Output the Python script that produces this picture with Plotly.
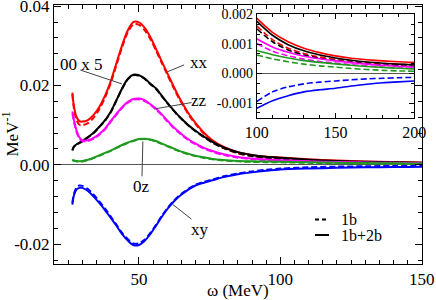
import plotly.graph_objects as go
import numpy as np

# ---------------- data (values in units of 1e-3 MeV^-1) ----------------
omega = [26.5, 27, 28, 29, 30, 32, 34, 36, 38, 40, 42, 44, 46, 48, 50, 52, 54, 56, 58, 60,
         62, 64, 66, 68, 70, 73, 76, 80, 85, 90, 95, 100, 110, 120, 130, 140, 150, 160, 170,
         180, 190, 200]

xx_1b2b = [18.2, 15.0, 12.0, 11.0, 10.9, 11.3, 12.6, 14.6, 17.4, 21.0, 25.5, 30.0, 33.8, 36.0,
           35.9, 34.6, 32.3, 29.3, 26.2, 23.2, 20.2, 17.3, 14.8, 12.5, 10.6, 8.1, 6.2, 4.5,
           3.2, 2.45, 2.05, 1.88, 1.40, 1.08, 0.86, 0.71, 0.60, 0.52, 0.47, 0.43, 0.40, 0.38]
xx_1b = [17.8, 14.4, 11.2, 10.1, 10.0, 10.5, 11.9, 14.0, 16.9, 20.5, 25.0, 29.5, 33.3, 35.4,
         35.3, 34.0, 31.8, 28.9, 25.8, 22.8, 19.8, 17.0, 14.5, 12.2, 10.3, 7.8, 5.9, 4.2,
         2.9, 2.2, 1.85, 1.62, 1.15, 0.86, 0.68, 0.56, 0.48, 0.42, 0.37, 0.34, 0.31, 0.30]

s00_1b2b = [3.7, 4.6, 5.2, 5.6, 6.0, 7.0, 8.1, 9.6, 11.2, 13.3, 16.2, 19.2, 21.6, 22.7,
            22.6, 21.8, 20.5, 19.3, 17.5, 15.7, 14.0, 12.4, 11.0, 9.7, 8.6, 7.1, 5.8, 4.4,
            3.2, 2.5, 2.05, 1.78, 1.30, 0.98, 0.77, 0.63, 0.53, 0.45, 0.39, 0.35, 0.32, 0.30]
s00_1b = [3.6, 4.5, 5.1, 5.5, 5.9, 6.9, 8.0, 9.5, 11.1, 13.2, 16.1, 19.1, 21.5, 22.6,
          22.5, 21.7, 20.4, 19.2, 17.4, 15.6, 13.9, 12.3, 10.9, 9.6, 8.5, 7.0, 5.6, 4.2,
          3.0, 2.25, 1.80, 1.52, 1.08, 0.80, 0.63, 0.52, 0.44, 0.38, 0.33, 0.29, 0.26, 0.24]

zz_1b2b = [13.5, 11.5, 8.6, 6.9, 6.2, 6.2, 6.8, 7.8, 9.1, 11.0, 12.8, 14.5, 15.8, 16.6,
           16.7, 16.3, 15.3, 14.2, 12.8, 11.2, 9.7, 8.4, 7.2, 6.2, 5.4, 4.3, 3.5, 2.7,
           2.0, 1.6, 1.35, 1.18, 0.90, 0.72, 0.59, 0.50, 0.43, 0.37, 0.32, 0.28, 0.25, 0.22]
zz_1b = [13.0, 11.0, 8.2, 6.6, 6.0, 6.0, 6.6, 7.6, 8.9, 10.8, 12.6, 14.3, 15.6, 16.4,
         16.5, 16.1, 15.2, 14.0, 12.6, 11.0, 9.5, 8.2, 7.0, 6.0, 5.2, 4.1, 3.3, 2.5,
         1.8, 1.42, 1.18, 1.02, 0.76, 0.60, 0.49, 0.41, 0.36, 0.30, 0.26, 0.22, 0.19, 0.17]

oz_1b2b = [1.3, 1.1, 0.95, 0.9, 0.95, 1.3, 1.8, 2.4, 3.0, 3.6, 4.3, 5.0, 5.6, 6.1,
           6.5, 6.6, 6.4, 6.0, 5.4, 4.8, 4.2, 3.6, 3.1, 2.7, 2.3, 1.9, 1.5, 1.2,
           1.0, 0.88, 0.82, 0.78, 0.64, 0.53, 0.44, 0.38, 0.33, 0.28, 0.24, 0.21, 0.18, 0.16]
oz_1b = [1.2, 1.0, 0.85, 0.8, 0.85, 1.2, 1.7, 2.3, 2.9, 3.5, 4.2, 4.9, 5.5, 6.0,
         6.4, 6.5, 6.3, 5.9, 5.3, 4.7, 4.1, 3.5, 3.0, 2.6, 2.2, 1.75, 1.4, 1.1,
         0.88, 0.75, 0.68, 0.63, 0.50, 0.40, 0.32, 0.26, 0.22, 0.17, 0.14, 0.11, 0.09, 0.08]

xy_1b2b = [-10.0, -7.8, -6.2, -5.8, -5.8, -6.6, -8.0, -9.6, -11.4, -13.3, -15.3, -17.4, -19.0, -20.2,
           -20.2, -19.2, -17.5, -15.4, -13.2, -11.2, -9.5, -8.1, -7.0, -6.0, -5.2, -4.5, -3.9, -3.1,
           -2.4, -1.9, -1.5, -1.18, -0.92, -0.75, -0.62, -0.55, -0.50, -0.42, -0.36, -0.31, -0.28, -0.25]
xy_1b = [-9.6, -7.4, -5.7, -5.2, -5.3, -6.1, -7.5, -9.2, -11.0, -13.0, -15.0, -17.1, -18.7, -19.8,
         -19.8, -18.9, -17.2, -15.2, -13.0, -11.0, -9.3, -7.9, -6.8, -5.8, -5.0, -4.3, -3.7, -2.9,
         -2.2, -1.65, -1.25, -0.95, -0.62, -0.45, -0.35, -0.29, -0.25, -0.21, -0.18, -0.16, -0.14, -0.13]

series = [
    ("xx", "#ff0000", xx_1b, xx_1b2b),
    ("00 x 5", "#000000", s00_1b, s00_1b2b),
    ("zz", "#ff00ff", zz_1b, zz_1b2b),
    ("0z", "#1f9a1f", oz_1b, oz_1b2b),
    ("xy", "#0000ff", xy_1b, xy_1b2b),
]

main_xticks = [50, 100, 150]
main_yticks = [-0.02, 0.0, 0.02, 0.04]
main_yticktext = ["-0.02", "0.00", "0.02", "0.04"]
inset_xticks = [100, 150, 200]
inset_yticks = [-0.001, 0.0, 0.001, 0.002]
inset_yticktext = ["-0.001", "0.000", "0.001", "0.002"]

# ---------------- figure ----------------
W, H = 436, 300
ML, MR, MT, MB = 54, 14, 5, 36
PW, PH = W - ML - MR, H - MT - MB
FONT = "Liberation Serif, Times New Roman, Times, serif"


def px(xp):
    return (xp - ML) / PW


def py(yp):
    return (H - MB - yp) / PH


om = np.array(omega)
fig = go.Figure()
mask = om >= 100
for name, col, v1b, v2b in series:
    a1 = np.array(v1b) * 1e-3
    a2 = np.array(v2b) * 1e-3
    for arr, dash in ((a2, "solid"), (a1, "6px,3px")):
        fig.add_trace(go.Scatter(x=om, y=arr, mode="lines", xaxis="x", yaxis="y",
                                 line=dict(color=col, width=2, dash=dash, shape="spline", smoothing=0.8),
                                 showlegend=False, hoverinfo="skip"))
        fig.add_trace(go.Scatter(x=om[mask], y=arr[mask], mode="lines", xaxis="x2", yaxis="y2",
                                 line=dict(color=col, width=1.6, dash=dash, shape="spline", smoothing=0.8),
                                 showlegend=False, hoverinfo="skip"))

axcommon = dict(showline=True, linecolor="black", linewidth=1, mirror="ticks", ticks="inside",
                showgrid=False, tickcolor="black", automargin=False, ticklabeloverflow="allow",
                tickfont=dict(family=FONT, color="black"))

fig.update_layout(
    width=W, height=H, margin=dict(l=ML, r=MR, t=MT, b=MB, autoexpand=False),
    paper_bgcolor="white", plot_bgcolor="white",
    font=dict(family=FONT, color="black", size=17),
    xaxis=dict(axcommon, range=[20, 150.05], tickvals=main_xticks, ticklen=7, tickwidth=1,
               tickfont=dict(family=FONT, size=17, color="black"),
               minor=dict(dtick=5, tick0=0, ticklen=4, ticks="inside", tickcolor="black"),
               zeroline=False, domain=[0, 1]),
    yaxis=dict(axcommon, range=[-0.025, 0.0403], tickvals=main_yticks, ticktext=main_yticktext,
               ticklen=7, tickwidth=1, tickfont=dict(family=FONT, size=17, color="black"),
               minor=dict(dtick=0.004, tick0=0, ticklen=4, ticks="inside", tickcolor="black"),
               zeroline=True, zerolinecolor="#555", zerolinewidth=1, domain=[0, 1]),
    xaxis2=dict(axcommon, range=[100, 200.05], tickvals=inset_xticks, ticklen=5,
                tickfont=dict(family=FONT, size=16, color="black"),
                minor=dict(dtick=10, tick0=0, ticklen=3, ticks="inside", tickcolor="black"),
                zeroline=False, anchor="y2", domain=[px(256.7), px(414.3)]),
    yaxis2=dict(axcommon, range=[-0.0015, 0.00201], tickvals=inset_yticks, ticktext=inset_yticktext,
                ticklen=5, tickfont=dict(family=FONT, size=14, color="black"),
                minor=dict(dtick=0.001 / 3, tick0=0, ticklen=3, ticks="inside", tickcolor="black"),
                zeroline=True, zerolinecolor="#555", zerolinewidth=1,
                anchor="x2", domain=[py(117.8), py(14.3)]),
)

# curve labels with pointer lines (data coordinates)
labels = [
    ("xx", 71.2, 0.0259, 59.9, 0.0234, 66.0, 0.0252),
    ("00 x 5", 29.8, 0.0253, 29.3, 0.0239, 44.0, 0.0204),
    ("zz", 71.2, 0.0161, 55.6, 0.0141, 68.6, 0.0157),
    ("0z", 51.0, -0.0055, 51.4, 0.0059, 51.1, -0.0029),
    ("xy", 71.5, -0.0163, 62.0, -0.0100, 68.6, -0.0137),
]
for text, tx, ty, x0, y0, x1, y1 in labels:
    fig.add_shape(type="line", xref="x", yref="y", x0=x0, y0=y0, x1=x1, y1=y1,
                  line=dict(color="#444", width=1))
    fig.add_annotation(x=tx, y=ty, xref="x", yref="y", text=text, showarrow=False,
                       font=dict(family=FONT, size=17, color="black"))

# legend
fig.add_shape(type="line", xref="paper", yref="paper", x0=px(315), x1=px(327), y0=py(219.5), y1=py(219.5),
              line=dict(color="black", width=2, dash="4px,3px"))
fig.add_shape(type="line", xref="paper", yref="paper", x0=px(315), x1=px(329), y0=py(235), y1=py(235),
              line=dict(color="black", width=2))
fig.add_annotation(x=px(339), y=py(219.5), xref="paper", yref="paper", text="1b", showarrow=False,
                   xanchor="left", yanchor="middle", font=dict(family=FONT, size=16, color="black"))
fig.add_annotation(x=px(339), y=py(235.5), xref="paper", yref="paper", text="1b+2b", showarrow=False,
                   xanchor="left", yanchor="middle", font=dict(family=FONT, size=16, color="black"))

# axis titles
fig.add_annotation(x=px(238), y=py(290), xref="paper", yref="paper", text="ω (MeV)", showarrow=False,
                   xanchor="center", yanchor="middle", font=dict(family=FONT, size=17, color="black"))
fig.add_annotation(x=px(10), y=0.5, xref="paper", yref="paper", text="MeV<sup>-1</sup>", showarrow=False,
                   textangle=-90, xanchor="center", yanchor="middle",
                   font=dict(family=FONT, size=17, color="black"))

fig.write_html("out.html", config={"displayModeBar": False},
               post_script="document.body.style.margin='0px';document.body.style.padding='0px';")
